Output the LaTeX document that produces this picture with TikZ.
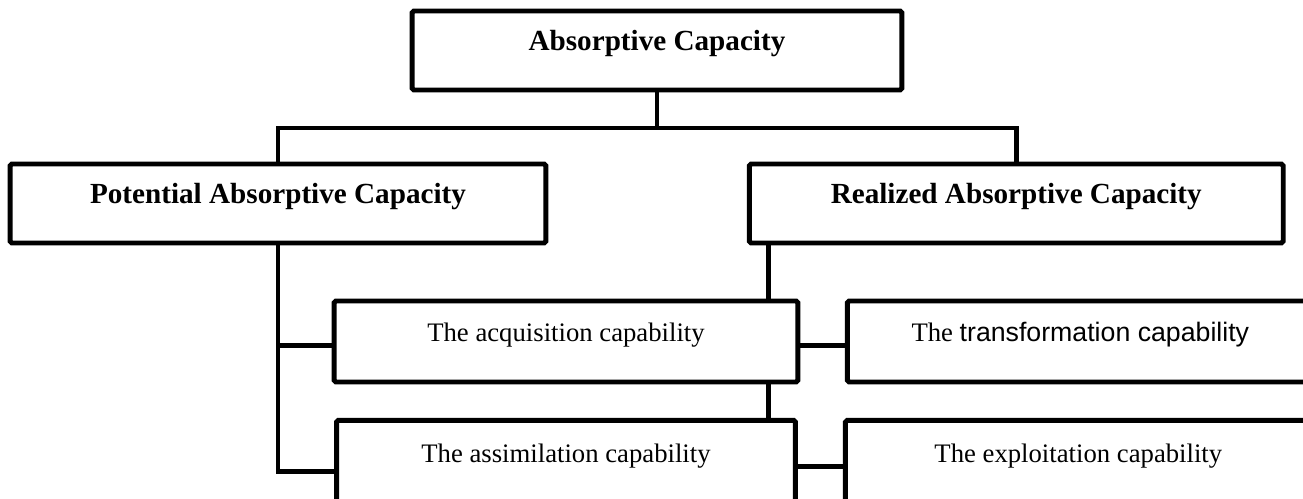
\documentclass[tikz,border=0pt]{standalone}
\usepackage{fontspec}
\setmainfont{Liberation Serif}
\newfontfamily\sansfam{Liberation Sans}
\usepackage{tikz}
\usetikzlibrary{positioning,calc}
\tikzstyle{link} = [line width=2.8pt]
\tikzstyle{capbox} = [rectangle, rounded corners=1pt, draw=black, fill=white, line width=2.8pt, minimum height=1.62cm, text height=0.8em, text depth=0.8em, inner sep=2pt, font=\fontsize{15.2pt}{18pt}\selectfont]
\tikzstyle{headbox} = [capbox, minimum height=1.58cm, font=\fontsize{16.6pt}{20pt}\selectfont\bfseries]

\begin{document}
\begin{tikzpicture}[x=0.02cm, y=-0.02cm]
    \useasboundingbox (0,0) rectangle (1303,498);

    % Nodes
    \node[headbox, minimum width=9.8cm] (absorb) at (657,50.5) {Absorptive Capacity};
    \node[headbox, minimum width=10.72cm] (potential) at (278,203.5) {Potential Absorptive Capacity};
    \node[headbox, minimum width=10.68cm, right=3.97cm of potential] (realized) {Realized Absorptive Capacity};
    \node[capbox, minimum width=9.28cm] (acquisition) at (566,341.5) {The acquisition capability};
    \node[capbox, minimum width=9.18cm, minimum height=1.78cm, text depth=1.1em, below=0.67cm of acquisition] (assimilation) {The assimilation capability};
    \node[capbox, minimum width=9.32cm, right=0.89cm of acquisition] (transformation) {The {\sansfam transformation capability}};
    \node[capbox, minimum width=9.32cm, minimum height=1.78cm, text depth=1.1em, right=0.9cm of assimilation] (exploitation) {The exploitation capability};

    % Connectors
    \coordinate (bus) at (278,128);
    \draw[link] (absorb.south) -- (absorb.south |- bus);
    \draw[link] (potential.north) |- (bus) -| (realized.north);

    \draw[link] (potential.south) |- ($(assimilation.west)+(0,7)$);
    \draw[link] ($(acquisition.west)+(0,4)$) -| (potential.south);

    \coordinate (drop) at ([xshift=0.44cm]realized.south west);
    \draw[link] (drop) -- (drop |- acquisition.north);
    \draw[link] (drop |- acquisition.south) -- (drop |- assimilation.north);

    \draw[link] ($(acquisition.east)+(0,4)$) -- ($(transformation.west)+(0,4)$);
    \draw[link] ($(assimilation.east)+(0,2)$) -- ($(exploitation.west)+(0,2)$);
\end{tikzpicture}
\end{document}
